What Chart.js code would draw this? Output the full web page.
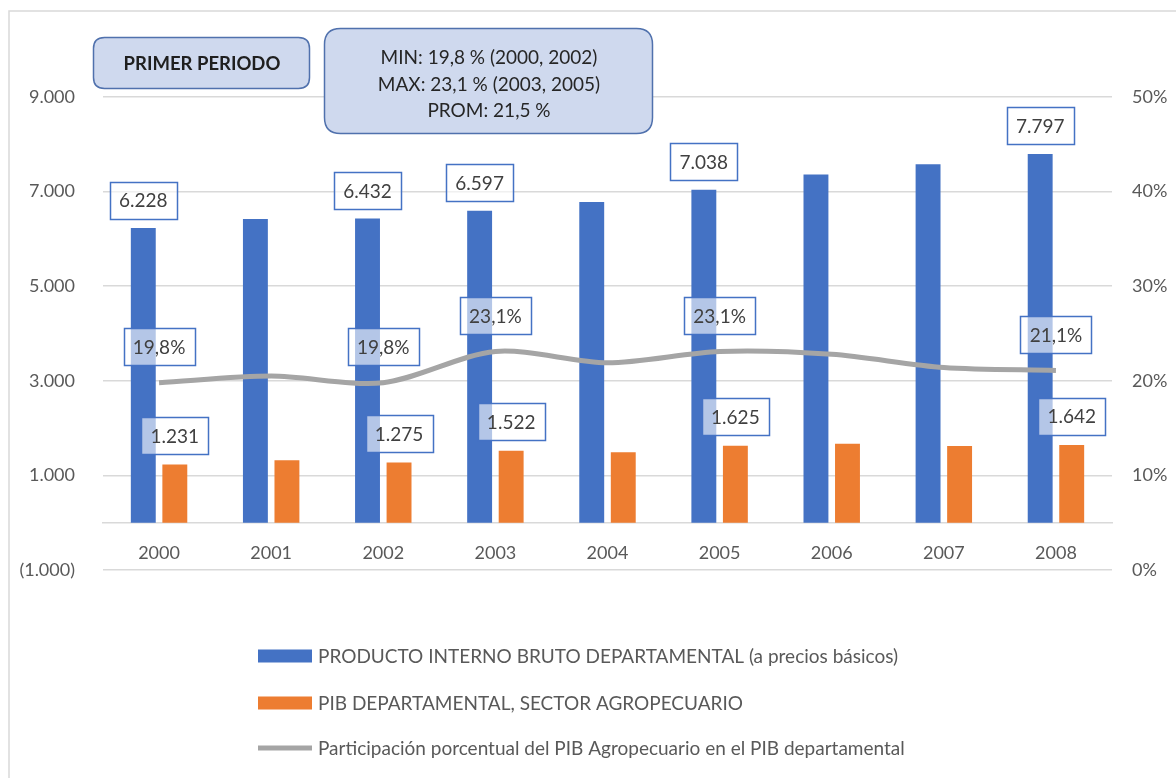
<!DOCTYPE html>
<html>
<head>
<meta charset="utf-8">
<script src="https://cdn.jsdelivr.net/npm/chart.js@4/dist/chart.umd.min.js"></script>
<style>
html,body{margin:0;padding:0;background:#fff;}
#wrap{width:1176px;height:778px;position:relative;}
</style>
</head>
<body>
<div id="wrap"><canvas id="c" width="1176" height="778"></canvas></div>
<script>
// ---- DATA ----
const years = ['2000','2001','2002','2003','2004','2005','2006','2007','2008'];
const pibDepartamental = [6228, 6420, 6432, 6597, 6780, 7038, 7360, 7580, 7797];
const pibAgropecuario = [1231, 1320, 1275, 1522, 1490, 1625, 1670, 1620, 1642];
const participacion = [19.8, 20.5, 19.8, 23.1, 21.9, 23.1, 22.8, 21.4, 21.1];
const leftTicks = [-1000, 1000, 3000, 5000, 7000, 9000];
const rightTicks = [0, 10, 20, 30, 40, 50];
const labeledYears = ['2000', '2002', '2003', '2005', '2008'];
const seriesNames = [
  'PRODUCTO INTERNO BRUTO DEPARTAMENTAL (a precios básicos)',
  'PIB DEPARTAMENTAL, SECTOR AGROPECUARIO',
  'Participación porcentual del PIB Agropecuario en el PIB departamental'
];
const annotationTitle = 'PRIMER PERIODO';
const annotationLines = ['MIN: 19,8 % (2000, 2002)', 'MAX: 23,1 % (2003, 2005)', 'PROM: 21,5 %'];

// ---- STYLE ----
const FONT = 'Lato, "Open Sans", "DejaVu Sans", sans-serif';
const BLUE = '#4472C4', ORANGE = '#ED7D31', GRAY = '#A5A5A5';

function fmtNum(v) {
  const s = Math.abs(Math.round(v)).toString().replace(/\B(?=(\d{3})+(?!\d))/g, '.');
  return v < 0 ? '(' + s + ')' : s;
}
function fmtPct(v) { return v.toFixed(1).replace('.', ',') + '%'; }

Chart.defaults.font.family = FONT;
Chart.defaults.color = '#595959';

function roundRect(ctx, x, y, w, h, r) {
  ctx.beginPath();
  ctx.moveTo(x + r, y);
  ctx.lineTo(x + w - r, y);
  ctx.quadraticCurveTo(x + w, y, x + w, y + r);
  ctx.lineTo(x + w, y + h - r);
  ctx.quadraticCurveTo(x + w, y + h, x + w - r, y + h);
  ctx.lineTo(x + r, y + h);
  ctx.quadraticCurveTo(x, y + h, x, y + h - r);
  ctx.lineTo(x, y + r);
  ctx.quadraticCurveTo(x, y, x + r, y);
  ctx.closePath();
}

function drawLabel(ctx, text, cx, cy) {
  ctx.save();
  ctx.font = '19px ' + FONT;
  const w = Math.round(ctx.measureText(text).width + 18);
  const h = 37;
  const x = Math.round(cx - w / 2) + 0.5, y = Math.round(cy - h / 2) + 0.5;
  ctx.fillStyle = 'rgba(255,255,255,0.6)';
  ctx.fillRect(x, y, w, h);
  ctx.strokeStyle = BLUE;
  ctx.lineWidth = 1.5;
  ctx.strokeRect(x, y, w, h);
  ctx.fillStyle = '#404040';
  ctx.textAlign = 'center';
  ctx.textBaseline = 'middle';
  ctx.fillText(text, cx, cy + 1);
  ctx.restore();
}

const decor = {
  id: 'decor',
  beforeDraw(chart) {
    const ctx = chart.ctx;
    ctx.save();
    ctx.fillStyle = '#fff';
    ctx.fillRect(0, 0, chart.width, chart.height);
    ctx.strokeStyle = '#D9D9D9';
    ctx.lineWidth = 1.5;
    ctx.beginPath();
    ctx.moveTo(9, chart.height + 5);
    ctx.lineTo(9, 11);
    ctx.lineTo(chart.width + 5, 11);
    ctx.stroke();
    ctx.restore();
  },
  afterDatasetsDraw(chart) {
    const ctx = chart.ctx;
    const ds = chart.data.datasets;
    years.forEach((yr, i) => {
      if (!labeledYears.includes(yr)) return;
      const mb = chart.getDatasetMeta(0).data[i];
      const mo = chart.getDatasetMeta(1).data[i];
      const ml = chart.getDatasetMeta(2).data[i];
      drawLabel(ctx, fmtNum(ds[0].data[i]), mb.x, mb.y - 28);
      drawLabel(ctx, fmtNum(ds[1].data[i]), mo.x, mo.y - 29);
      drawLabel(ctx, fmtPct(ds[2].data[i]), ml.x, ml.y - 36);
    });
  },
  afterDraw(chart) {
    const ctx = chart.ctx;
    ctx.save();
    // annotation boxes
    ctx.fillStyle = '#CFD9EE';
    ctx.strokeStyle = '#5071AD';
    ctx.lineWidth = 1.5;
    roundRect(ctx, 93.5, 37.5, 216, 51, 11);
    ctx.fill(); ctx.stroke();
    roundRect(ctx, 324.5, 28.5, 328, 105, 16);
    ctx.fill(); ctx.stroke();
    ctx.fillStyle = '#1F1F1F';
    ctx.textAlign = 'center';
    ctx.textBaseline = 'middle';
    ctx.font = 'bold 18.5px ' + FONT;
    ctx.fillText(annotationTitle, 202, 64);
    ctx.font = '19px ' + FONT;
    ctx.fillStyle = '#262626';
    annotationLines.forEach((t, k) => ctx.fillText(t, 489, 58 + k * 26.5));
    // legend
    const ds = chart.data.datasets;
    const rows = [656, 703, 748];
    ctx.textAlign = 'left';
    ctx.font = '19px ' + FONT;
    ds.forEach((d, k) => {
      const cy = rows[k];
      if (d.type === 'line') {
        ctx.fillStyle = d.borderColor;
        ctx.fillRect(258, cy - 2.5, 54, 5);
      } else {
        ctx.fillStyle = d.backgroundColor;
        ctx.fillRect(258, cy - 6.5, 54, 13);
      }
      ctx.fillStyle = '#595959';
      ctx.fillText(d.label, 318, cy + 1);
    });
    ctx.restore();
  }
};

new Chart(document.getElementById('c'), {
  type: 'bar',
  data: {
    labels: years,
    datasets: [
      { label: seriesNames[0], data: pibDepartamental, backgroundColor: BLUE, yAxisID: 'y', order: 1,
        categoryPercentage: 0.5625, barPercentage: 0.79 },
      { label: seriesNames[1], data: pibAgropecuario, backgroundColor: ORANGE, yAxisID: 'y', order: 1,
        categoryPercentage: 0.5625, barPercentage: 0.79 },
      { type: 'line', label: seriesNames[2], data: participacion, yAxisID: 'y1', order: 0,
        borderColor: GRAY, backgroundColor: GRAY, borderWidth: 5, pointRadius: 0, tension: 0.3,
        fill: false, borderCapStyle: 'butt' }
    ]
  },
  options: {
    responsive: false,
    animation: false,
    events: [],
    layout: { padding: { left: 0, right: 0, top: 97, bottom: 208 } },
    plugins: { legend: { display: false }, tooltip: { enabled: false } },
    scales: {
      x: {
        position: { y: 0 },
        offset: true,
        grid: { display: false },
        border: { display: true, color: '#D9D9D9', width: 1.5 },
        ticks: { padding: 12, color: '#595959', font: { size: 18 } }
      },
      y: {
        position: 'left',
        min: leftTicks[0], max: leftTicks[leftTicks.length - 1],
        afterBuildTicks(s) { s.ticks = leftTicks.map(v => ({ value: v })); },
        afterFit(s) { s.width = 103; },
        grid: { color: '#D9D9D9', lineWidth: 1.5, drawTicks: false },
        border: { display: false },
        ticks: { padding: 28, color: '#595959', font: { size: 18 }, callback: v => fmtNum(v) }
      },
      y1: {
        position: 'right',
        min: rightTicks[0], max: rightTicks[rightTicks.length - 1],
        afterBuildTicks(s) { s.ticks = rightTicks.map(v => ({ value: v })); },
        afterFit(s) { s.width = 64; },
        grid: { display: false, drawTicks: false },
        border: { display: false },
        ticks: { padding: 20, color: '#595959', font: { size: 18 }, callback: v => v + '%' }
      }
    }
  },
  plugins: [decor]
});
</script>
</body>
</html>
